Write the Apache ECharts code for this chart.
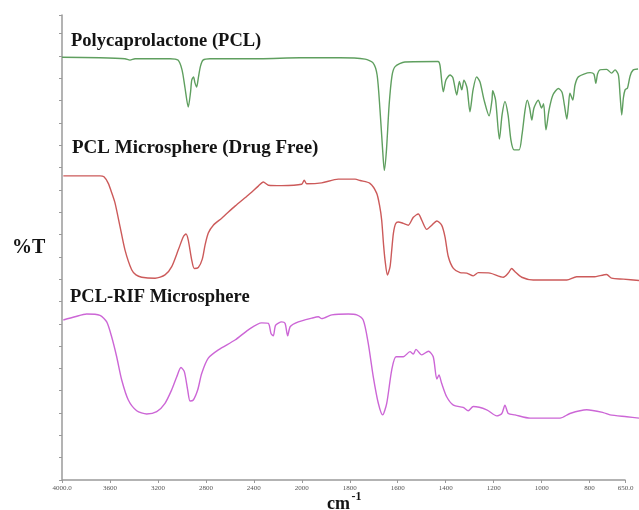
<!DOCTYPE html>
<html>
<head>
<meta charset="utf-8">
<script src="https://cdn.jsdelivr.net/npm/echarts@6/dist/echarts.min.js"></script>
<style>
  html, body { margin: 0; padding: 0; background: #ffffff; }
  #chart { width: 639px; height: 510px; }
</style>
</head>
<body>
<div id="chart"></div>
<script>
// FTIR spectra (%T, offset for display) of PCL, drug-free PCL microspheres and PCL-RIF microspheres.
const tickWavenumbers = [4000, 3600, 3200, 2800, 2400, 2000, 1800, 1600, 1400, 1200, 1000, 800, 650];
const tickLabels = ['4000.0', '3600', '3200', '2800', '2400', '2000', '1800', '1600', '1400', '1200', '1000', '800', '650.0'];

const pclWavenumber = [4000, 3683, 3475, 3433, 3391, 3099, 3033, 2999, 2974, 2947, 2928, 2918, 2903, 2891, 2877, 2863, 2845, 2824, 2766, 2349, 2015, 1841, 1736, 1703, 1686, 1674, 1663, 1656, 1647, 1636, 1624, 1611, 1570, 1432, 1424, 1410, 1399, 1382, 1370, 1354, 1343, 1333, 1324, 1311, 1299, 1286, 1271, 1257, 1240, 1219, 1207, 1204, 1192, 1176, 1165, 1153, 1140, 1128, 1115, 1094, 1082, 1069, 1060, 1050, 1041, 1032, 1014, 1000, 992, 982, 969, 953, 930, 915, 905, 895, 888, 882, 870, 861, 847, 798, 782, 774, 767, 757, 729, 708, 694, 680, 673, 666, 659, 652, 642, 631, 618, 598];
const pclT = [90.9, 90.8, 90.6, 90.3, 90.6, 90.6, 90.3, 88.2, 84.3, 80.2, 83.4, 86.0, 86.7, 85.4, 84.5, 86.5, 89.0, 90.3, 90.6, 90.6, 90.8, 90.8, 90.5, 89.7, 87.1, 79.6, 71.0, 66.6, 71.0, 80.6, 86.9, 88.9, 89.9, 90.0, 89.2, 83.5, 86.0, 87.1, 86.5, 82.8, 85.7, 83.9, 86.0, 84.3, 79.2, 83.9, 86.7, 85.6, 81.7, 78.3, 81.7, 83.7, 81.7, 73.3, 78.5, 81.4, 78.5, 73.1, 71.0, 71.0, 74.2, 79.6, 81.7, 80.0, 77.4, 80.0, 81.7, 80.0, 80.9, 75.3, 79.6, 82.8, 84.2, 83.4, 80.6, 77.6, 80.6, 83.2, 81.7, 84.9, 86.7, 87.6, 87.3, 85.3, 87.3, 88.2, 88.3, 87.5, 88.2, 87.1, 82.8, 78.5, 82.2, 83.9, 84.3, 86.9, 88.2, 88.4];

const freeWavenumber = [3989, 3683, 3650, 3614, 3587, 3558, 3516, 3475, 3419, 3383, 3335, 3224, 3141, 3085, 3030, 2988, 2966, 2947, 2918, 2897, 2863, 2830, 2807, 2780, 2738, 2668, 2557, 2446, 2363, 2321, 2279, 2168, 2001, 1990, 1980, 1917, 1848, 1778, 1757, 1716, 1688, 1676, 1667, 1659, 1653, 1643, 1632, 1625, 1618, 1609, 1598, 1577, 1556, 1535, 1514, 1500, 1479, 1458, 1437, 1417, 1403, 1389, 1368, 1340, 1312, 1285, 1264, 1215, 1160, 1139, 1125, 1111, 1083, 1035, 895, 854, 784, 729, 708, 659, 594];
const freeT = [65.4, 65.4, 65.2, 63.8, 61.9, 59.6, 54.5, 49.5, 45.2, 44.1, 43.6, 43.4, 44.1, 45.9, 49.5, 52.3, 52.9, 51.6, 47.3, 45.5, 45.7, 47.5, 50.5, 53.1, 54.8, 56.3, 58.9, 61.3, 63.2, 64.1, 63.4, 63.3, 63.6, 64.5, 63.7, 63.9, 64.7, 64.7, 64.4, 63.8, 61.7, 59.1, 55.9, 50.5, 47.3, 44.1, 45.9, 49.5, 53.1, 55.1, 55.5, 55.2, 54.8, 56.5, 57.2, 55.9, 53.9, 54.8, 55.7, 54.8, 52.3, 48.0, 45.5, 44.6, 44.5, 43.9, 44.6, 44.5, 43.6, 44.5, 45.5, 44.8, 43.6, 43.0, 43.0, 43.7, 43.7, 44.2, 43.4, 43.2, 42.9];

const rifWavenumber = [3989, 3892, 3794, 3683, 3627, 3586, 3544, 3502, 3447, 3377, 3294, 3210, 3141, 3085, 3043, 3008, 2980, 2952, 2932, 2905, 2868, 2835, 2780, 2696, 2557, 2446, 2335, 2279, 2257, 2238, 2218, 2168, 2140, 2118, 2096, 2029, 1959, 1931, 1917, 1875, 1806, 1771, 1744, 1723, 1702, 1681, 1663, 1646, 1625, 1607, 1577, 1549, 1535, 1524, 1500, 1472, 1452, 1437, 1428, 1417, 1396, 1368, 1327, 1306, 1285, 1229, 1187, 1166, 1153, 1139, 1111, 1048, 923, 882, 812, 743, 715, 645, 594];
const rifT = [34.4, 35.1, 35.7, 35.4, 34.0, 30.8, 26.5, 21.5, 17.2, 14.9, 14.2, 14.7, 16.5, 19.4, 22.2, 24.2, 23.3, 19.4, 17.0, 17.2, 19.4, 22.9, 26.2, 28.0, 30.1, 32.3, 33.8, 33.7, 31.5, 31.0, 33.3, 34.0, 33.7, 31.0, 33.0, 34.0, 34.8, 35.1, 34.7, 35.5, 35.7, 35.5, 34.4, 29.4, 22.2, 16.5, 14.0, 16.5, 23.7, 26.5, 26.5, 27.6, 27.1, 28.1, 26.9, 27.7, 26.5, 21.7, 22.6, 20.8, 17.9, 16.1, 15.6, 14.9, 15.8, 15.1, 13.8, 14.3, 16.1, 14.3, 14.0, 13.3, 13.3, 14.3, 15.1, 14.5, 14.0, 13.6, 13.3];

const seriesNames = ['Polycaprolactone (PCL)', 'PCL Microsphere (Drug Free)', 'PCL-RIF Microsphere'];
const seriesColors = ['#5f9f5f', '#cc5a5a', '#cc66d6'];

// Instrument-style split abscissa: 400 cm-1 per division above 2000, 200 cm-1 per division below.
function axisPos(w) {
  return w >= 2000 ? (4000 - w) / 400 : 5 + (2000 - w) / 200;
}

function toPoints(ws, ts) {
  return ws.map((w, i) => [axisPos(w), ts[i]]);
}

const tickPositions = tickWavenumbers.map(axisPos);
const axisStart = axisPos(4000);
const axisEnd = axisPos(650);

const chart = echarts.init(document.getElementById('chart'), null, { renderer: 'canvas' });

const serif = '"Liberation Serif", "DejaVu Serif", serif';
const ink = '#141414';
const axisGray = '#9a9a9a';

const labelTop = [41, 147.6, 296.7];
const labelLeft = [71, 72, 70];
const labelSize = [18.5, 19, 18.5];

const series = [
  { name: seriesNames[0], data: toPoints(pclWavenumber, pclT) },
  { name: seriesNames[1], data: toPoints(freeWavenumber, freeT) },
  { name: seriesNames[2], data: toPoints(rifWavenumber, rifT) }
].map((s, i) => Object.assign(s, {
  type: 'line',
  showSymbol: false,
  smooth: 0.25,
  lineStyle: { color: seriesColors[i], width: 1.4 },
  itemStyle: { color: seriesColors[i] }
}));

// Baseline of the wavenumber scale, running from 4000 to 650 cm-1 only.
series[0].markLine = {
  silent: true,
  symbol: 'none',
  label: { show: false },
  lineStyle: { color: axisGray, width: 1.5, type: 'solid' },
  data: [[{ coord: [axisStart, 0] }, { coord: [axisEnd, 0] }]]
};

chart.setOption({
  animation: false,
  backgroundColor: '#ffffff',
  grid: { left: 62, right: 0, top: 15, bottom: 30, containLabel: false },
  xAxis: {
    type: 'value',
    min: 0,
    max: axisPos(594),
    splitLine: { show: false },
    axisLine: { show: false },
    axisTick: { show: true, customValues: tickPositions, length: 3, lineStyle: { color: axisGray } },
    axisLabel: {
      customValues: tickPositions,
      color: '#555555',
      fontSize: 7,
      fontFamily: serif,
      margin: 5,
      formatter: function (v) {
        const i = tickPositions.findIndex(p => Math.abs(p - v) < 1e-6);
        return i >= 0 ? tickLabels[i] : '';
      }
    }
  },
  yAxis: {
    type: 'value',
    min: 0,
    max: 100,
    interval: 4.8,
    splitLine: { show: false },
    axisLabel: { show: false },
    axisLine: { show: true, lineStyle: { color: axisGray, width: 1.5 } },
    axisTick: { show: true, length: 3, lineStyle: { color: axisGray } }
  },
  series: series,
  graphic: seriesNames.map((name, i) => ({
    type: 'text',
    left: labelLeft[i],
    top: labelTop[i] - labelSize[i] / 2,
    style: { text: name, fill: ink, font: 'bold ' + labelSize[i] + 'px ' + serif }
  })).concat([
    { type: 'text', left: 12, top: 238, style: { text: '%T', fill: ink, font: 'bold 20px ' + serif } },
    { type: 'text', left: 327, top: 495, style: { text: 'cm', fill: ink, font: 'bold 18px ' + serif } },
    { type: 'text', left: 351.5, top: 491, style: { text: '-1', fill: ink, font: 'bold 12px ' + serif } }
  ])
});
</script>
</body>
</html>
